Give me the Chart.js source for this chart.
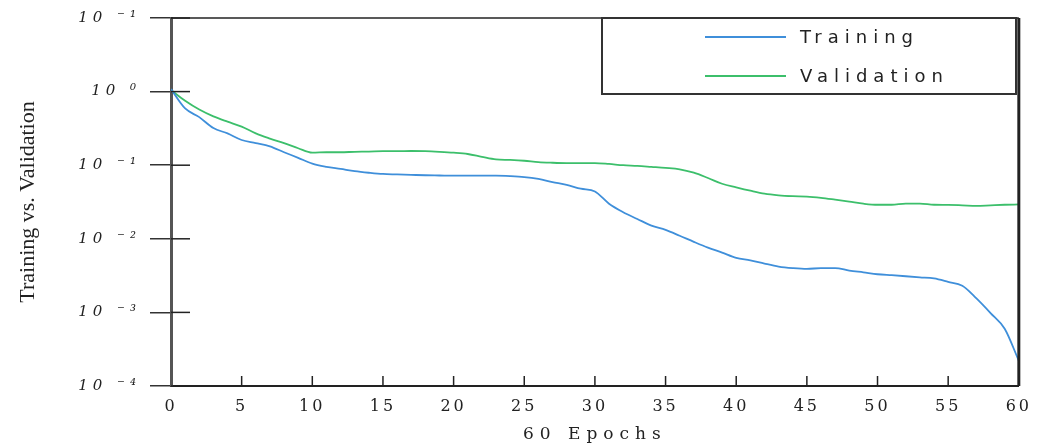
<!DOCTYPE html>
<html>
<head>
<meta charset="utf-8">
<script src="https://cdn.jsdelivr.net/npm/chart.js@4"></script>
<style>
  body { margin: 0; background: #fff; }
  canvas { display: block; }
</style>
</head>
<body>
<canvas id="lossChart" width="1040" height="445"></canvas>
<script>

/* DATA */

const epochs = [
    0,1,2,3,4,5,6,7,8,9,
    10,11,12,13,14,15,16,17,18,19,
    20,21,22,23,24,25,26,27,28,29,
    30,31,32,33,34,35,36,37,38,39,
    40,41,42,43,44,45,46,47,48,49,
    50,51,52,53,54,55,56,57,58,59,60
];

const training = [
    1.08,0.59,0.45,0.32,0.27,0.22,0.20,0.18,0.15,0.126,
    0.105,0.095,0.089,0.083,0.079,0.076,0.075,0.074,0.073,0.0725,
    0.072,0.072,0.072,0.072,0.071,0.069,0.065,0.059,0.054,0.048,
    0.044,0.030,0.023,0.0186,0.0151,0.0132,0.011,0.0091,0.0076,0.0065,
    0.0055,0.0051,0.0046,0.0042,0.0040,0.0039,0.0040,0.0040,0.0037,0.0035,
    0.0033,0.0032,0.0031,0.0030,0.0029,0.0026,0.0023,0.00155,0.00098,0.0006,0.00022
];

const validation = [
    1.05,0.75,0.57,0.46,0.39,0.335,0.27,0.23,0.20,0.17,
    0.148,0.15,0.15,0.152,0.153,0.155,0.155,0.156,0.155,0.152,
    0.148,0.142,0.13,0.12,0.118,0.115,0.11,0.108,0.107,0.107,
    0.107,0.104,0.10,0.098,0.095,0.092,0.088,0.079,0.067,0.056,
    0.050,0.045,0.041,0.039,0.038,0.0375,0.036,0.034,0.032,0.030,
    0.029,0.029,0.030,0.030,0.029,0.0289,0.0285,0.028,0.0285,0.029,0.0293
];

const yTickValues = [10,1,0.1,0.01,0.001,0.0001];
const yTickLabels = ['10 ⁻¹','10 ⁰','10 ⁻¹','10 ⁻²','10 ⁻³','10 ⁻⁴'];

const seriesNames = ['Training','Validation'];
const seriesColors = ['#3f8fda','#3cbf6b'];

function toPoints(values){
    return epochs.map((e,i)=>({x:e,y:values[i]}));
}

/* LETTER SPACING PER SCALE */

const spacing = { x:'3px', y:'5px' };

const spacingPlugin = {
    id:'spacing',
    afterUpdate(chart){
        Object.values(chart.scales).forEach(s=>{
            if(s._spaced) return;
            s._spaced = true;
            const drawLabels = s.drawLabels.bind(s);
            const drawTitle = s.drawTitle.bind(s);
            s.drawLabels = function(a){
                chart.ctx.letterSpacing = spacing[s.id] || '0px';
                drawLabels(a);
                chart.ctx.letterSpacing = '0px';
            };
            s.drawTitle = function(){
                chart.ctx.letterSpacing = s.id === 'x' ? '6px' : '0px';
                drawTitle();
                chart.ctx.letterSpacing = '0px';
            };
        });
    }
};

/* FRAME, INNER TICKS, LEGEND BOX */

const framePlugin = {
    id:'frame',
    afterDraw(chart){
        const ctx = chart.ctx;
        const a = chart.chartArea;
        const x = chart.scales.x;
        const y = chart.scales.y;

        ctx.save();
        ctx.strokeStyle = '#222';

        ctx.lineWidth = 1.5;
        ctx.beginPath();
        ctx.moveTo(a.left, a.top);
        ctx.lineTo(a.right, a.top);
        ctx.stroke();

        ctx.lineWidth = 3;
        ctx.beginPath();
        ctx.moveTo(a.right, a.top);
        ctx.lineTo(a.right, a.bottom);
        ctx.stroke();

        ctx.lineWidth = 1.5;
        x.ticks.forEach(t=>{
            if(t.value === 0) return;
            const px = x.getPixelForValue(t.value);
            ctx.beginPath();
            ctx.moveTo(px, a.bottom);
            ctx.lineTo(px, a.bottom - 10);
            ctx.stroke();
        });
        y.ticks.forEach(t=>{
            const py = y.getPixelForValue(t.value);
            ctx.beginPath();
            ctx.moveTo(a.left, py);
            ctx.lineTo(a.left + 19, py);
            ctx.stroke();
        });

        /* legend */
        ctx.fillStyle = '#fff';
        ctx.fillRect(602, 18, 414, 76);
        ctx.lineWidth = 2;
        ctx.strokeStyle = '#333';
        ctx.strokeRect(602, 18, 414, 76);

        ctx.font = '18px "DejaVu Sans"';
        ctx.textBaseline = 'middle';
        ctx.textAlign = 'left';
        ctx.letterSpacing = '6px';
        chart.data.datasets.forEach((ds,i)=>{
            const ly = 38 + i * 39;
            ctx.strokeStyle = ds.borderColor;
            ctx.lineWidth = 2;
            ctx.beginPath();
            ctx.moveTo(705, ly - 1);
            ctx.lineTo(786, ly - 1);
            ctx.stroke();
            ctx.fillStyle = '#222';
            ctx.fillText(ds.label, 800, ly);
        });
        ctx.letterSpacing = '0px';
        ctx.restore();
    }
};

/* CHART */

const lossChart = new Chart(
document.getElementById('lossChart'),{

    type:'line',

    data:{
        datasets:[{
            label:seriesNames[0],
            data:toPoints(training),
            borderColor:seriesColors[0],
            borderWidth:1.8,
            pointRadius:0,
            cubicInterpolationMode:'monotone'
        },{
            label:seriesNames[1],
            data:toPoints(validation),
            borderColor:seriesColors[1],
            borderWidth:1.8,
            pointRadius:0,
            cubicInterpolationMode:'monotone'
        }]
    },

    options:{
        responsive:false,
        animation:false,
        devicePixelRatio:1,
        layout:{ padding:{ top:13, right:14, left:0, bottom:0 } },
        plugins:{
            legend:{ display:false },
            tooltip:{ enabled:false }
        },
        scales:{
            x:{
                type:'linear',
                min:0,
                max:60,
                afterFit(scale){ scale.height = 59; },
                ticks:{
                    stepSize:5,
                    padding:11,
                    maxRotation:0,
                    color:'#222',
                    font:{ family:'"DejaVu Serif"', size:16 }
                },
                grid:{ display:false, drawTicks:false },
                border:{ display:true, color:'#222', width:2 },
                title:{
                    display:true,
                    text:'60 Epochs',
                    color:'#222',
                    padding:{ top:0, bottom:0 },
                    font:{ family:'"DejaVu Serif"', size:17 }
                }
            },
            y:{
                type:'logarithmic',
                min:0.0001,
                max:10,
                afterFit(scale){ scale.width = 171; },
                afterBuildTicks(scale){
                    scale.ticks = yTickValues.map(v=>({ value:v }));
                },
                ticks:{
                    padding:9,
                    color:'#222',
                    font:{ family:'"DejaVu Serif"', size:15, style:'italic' },
                    callback:(v)=>{
                        const i = yTickValues.findIndex(t=>Math.abs(Math.log10(t) - Math.log10(v)) < 1e-6);
                        return i >= 0 ? yTickLabels[i] : '';
                    }
                },
                grid:{
                    drawOnChartArea:false,
                    tickLength:21,
                    color:'#333',
                    lineWidth:1.5
                },
                border:{ display:true, color:'#555', width:3 },
                title:{
                    display:true,
                    text:'Training vs. Validation',
                    color:'#222',
                    padding:{ top:15, bottom:0 },
                    font:{ family:'"Liberation Serif"', size:22 }
                }
            }
        }
    },

    plugins:[spacingPlugin, framePlugin]

});

</script>
</body>
</html>
